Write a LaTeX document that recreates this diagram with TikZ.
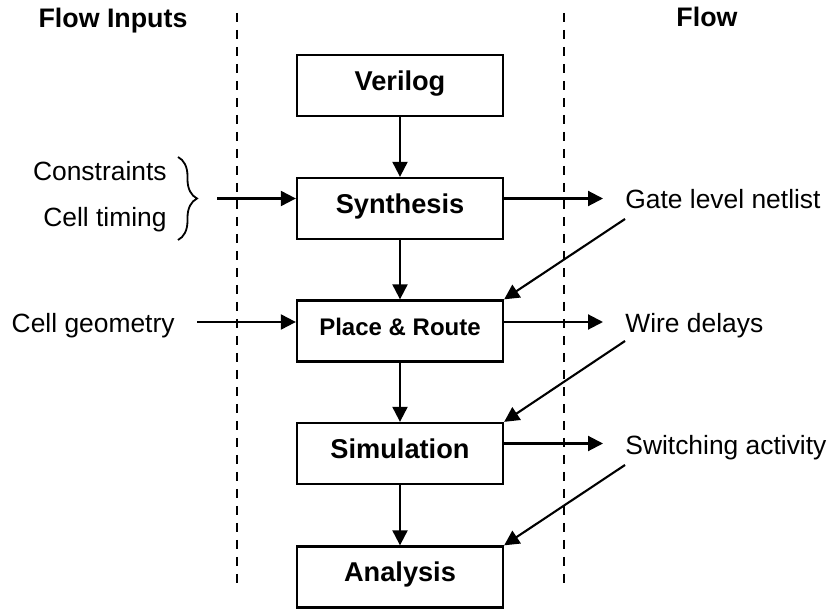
\documentclass[tikz,border=0pt]{standalone}
\usepackage{fontspec}
\setmainfont{Liberation Sans}
\usetikzlibrary{positioning,arrows.meta,decorations.pathreplacing,calc}

\begin{document}
\begin{tikzpicture}[x=0.5pt, y=0.5pt, >={Triangle[length=7.5pt,width=7.5pt]},
  font=\fontsize{13.2}{15}\selectfont,
  stage/.style={draw, line width=1.15pt, minimum width=103pt, minimum height=30.5pt,
    inner sep=0pt, text height=0.72em, text depth=0.25em,
    font=\fontsize{13.6}{16}\selectfont\bfseries},
  flow/.style={->, line width=1.05pt},
  lane/.style={line width=1.05pt, dash pattern=on 4.5pt off 4pt},
  item/.style={inner sep=0pt, text height=0.72em, text depth=0pt}]

  % --- Parameters ---
  \pgfmathsetmacro{\colx}{400}      % centre of the flow column
  \pgfmathsetmacro{\laneL}{237}     % left separator
  \pgfmathsetmacro{\laneR}{564}     % right separator
  \pgfmathsetmacro{\outx}{625}      % left edge of output labels

  \useasboundingbox (0,0) rectangle (831,-609);

  % --- Separators ---
  \draw[lane] (\laneL,-13) -- (\laneL,-584);
  \draw[lane] (\laneR,-13) -- (\laneR,-584);

  % --- Headers ---
  \node[item, font=\fontsize{13.4}{16}\selectfont\bfseries] (hdrin) at (113,-20) {Flow Inputs};
  \node[item, font=\fontsize{13.4}{16}\selectfont\bfseries] (hdrflow) at (707,-19) {Flow};

  % --- Flow stages ---
  \node[stage] (verilog) at (\colx,-85.5) {Verilog};
  \node[stage] (synth)   at (\colx,-208.5) {Synthesis};
  \node[stage, font=\fontsize{12}{14}\selectfont\bfseries] (place) at (\colx,-331) {Place \& Route};
  \node[stage] (sim)     at (\colx,-453.5) {Simulation};
  \node[stage] (anal)    at (\colx,-577) {Analysis};

  \draw[flow] (verilog) -- (synth);
  \draw[flow] (synth) -- (place);
  \draw[flow] (place) -- (sim);
  \draw[flow] (sim) -- (anal);

  % --- Inputs ---
  \node[item, anchor=east] (constr) at (167,-173.5) {Constraints};
  \node[item, anchor=east] (timing) at (167,-219) {Cell timing};
  \node[item, anchor=east] (geom)   at (175,-325) {Cell geometry};

  \draw[line width=0.9pt, decorate, decoration={brace, amplitude=9.5pt}]
    (178,-157) -- (178,-240);
  \coordinate (bracetip) at (197,-198);

  \coordinate (synthin) at ([yshift=5pt]synth.west);
  \coordinate (placein) at ([yshift=4.5pt]place.west);
  \draw[flow, shorten <=10pt] (bracetip |- synthin) -- (synthin);
  \draw[flow] ([xshift=11pt]geom.east |- placein) -- (placein);

  % --- Outputs ---
  \node[item, anchor=west] (netlist) at (\outx,-201) {Gate level netlist};
  \node[item, anchor=west] (delays)  at (\outx,-325) {Wire delays};
  \node[item, anchor=west] (activ)   at (\outx,-447) {Switching activity};

  \draw[flow, shorten >=11pt] ([yshift=5pt]synth.east) -- ([yshift=5pt]synth.east -| netlist.west);
  \draw[flow, shorten >=11pt] ([yshift=4.5pt]place.east) -- ([yshift=4.5pt]place.east -| delays.west);
  \draw[flow, shorten >=11pt] ([yshift=5pt]sim.east) -- ([yshift=5pt]sim.east -| activ.west);

  % --- Feedback into next stage ---
  \draw[flow] ([yshift=-9pt]netlist.west) -- (place.north east);
  \draw[flow] ([yshift=-8pt]delays.west) -- (sim.north east);
  \draw[flow] ([yshift=-9pt]activ.west) -- (anal.north east);

\end{tikzpicture}
\end{document}
